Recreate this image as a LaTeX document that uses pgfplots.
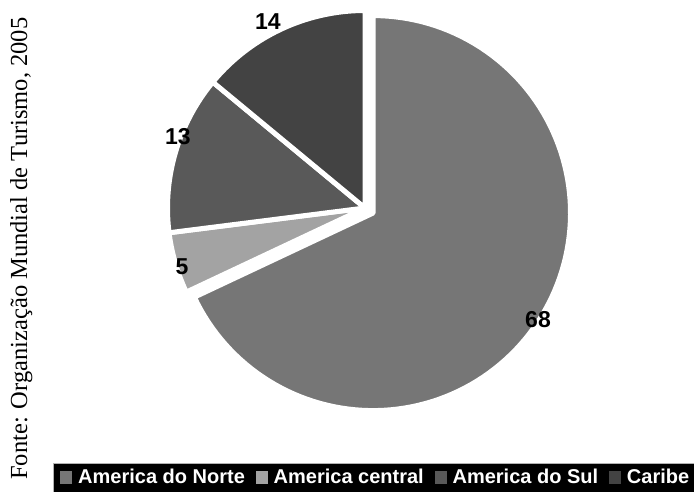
\documentclass[border=0pt]{standalone}
\usepackage{pgfplots}
\usepackage{pgfplotstable}
\pgfplotsset{compat=1.18}
\usepackage{fontspec}
\setsansfont{Liberation Sans}
\newfontfamily\srcfont{Liberation Serif}
\definecolor{cNorte}{HTML}{767676}
\definecolor{cCentral}{HTML}{A3A3A3}
\definecolor{cSul}{HTML}{595959}
\definecolor{cCaribe}{HTML}{434343}

\pgfplotstableread{
region value
Norte 68
Central 5
Sul 13
Caribe 14
}\pietable

\begin{document}
\begin{tikzpicture}
\useasboundingbox (0,0) rectangle (694pt,492pt);
\pgfplotstablegetelem{0}{value}\of\pietable \edef\vA{\pgfplotsretval}
\pgfplotstablegetelem{1}{value}\of\pietable \edef\vB{\pgfplotsretval}
\pgfplotstablegetelem{2}{value}\of\pietable \edef\vC{\pgfplotsretval}
\pgfplotstablegetelem{3}{value}\of\pietable \edef\vD{\pgfplotsretval}
\pgfmathsetmacro{\aA}{90}
\pgfmathsetmacro{\aB}{\aA-3.6*\vA}
\pgfmathsetmacro{\aC}{\aB-3.6*\vB}
\pgfmathsetmacro{\aD}{\aC-3.6*\vC}
\pgfmathsetmacro{\aE}{\aD-3.6*\vD}
\pgfmathsetmacro{\mA}{(\aA+\aB)/2}
\pgfmathsetmacro{\ex}{9.5*cos(\mA)}
\pgfmathsetmacro{\ey}{9.5*sin(\mA)}
\def\R{197.5}
\begin{axis}[
  x=1pt, y=1pt, scale only axis,
  xmin=-365, xmax=329, ymin=-284, ymax=208,
  axis lines=none, clip=false,
  at={(0pt,0pt)}, anchor=south west,
  legend columns=4,
  legend style={
    at={(axis cs:-312,-255)}, anchor=north west,
    fill=black, draw=gray!60, line width=0.8pt,
    inner xsep=7pt, inner ysep=6.5pt,
    font=\fontsize{20}{20}\selectfont\sffamily\bfseries, text=white,
    nodes={inner sep=0pt, text height=14pt, text depth=4pt},
    /tikz/every odd column/.append style={column sep=6pt},
    /tikz/every even column/.append style={column sep=11pt},
  },
]
\addplot[fill=cNorte, draw=white, line width=5pt, line join=round, domain=\aB:\aA, samples=120, forget plot]
  ({\ex+\R*cos(x)}, {\ey+\R*sin(x)}) -- (axis cs:\ex,\ey) -- cycle;
\addplot[fill=cCentral, draw=white, line width=5pt, line join=round, domain=\aC:\aB, samples=20, forget plot]
  ({\R*cos(x)}, {\R*sin(x)}) -- (axis cs:0,0) -- cycle;
\addplot[fill=cSul, draw=white, line width=5pt, line join=round, domain=\aD:\aC, samples=40, forget plot]
  ({\R*cos(x)}, {\R*sin(x)}) -- (axis cs:0,0) -- cycle;
\addplot[fill=cCaribe, draw=white, line width=5pt, line join=round, domain=\aE:\aD, samples=40, forget plot]
  ({\R*cos(x)}, {\R*sin(x)}) -- (axis cs:0,0) -- cycle;

\addlegendimage{legend image code/.code={\fill[cNorte] (0pt,-4.5pt) rectangle (11pt,7.5pt);}}
\addlegendentry{America do Norte}
\addlegendimage{legend image code/.code={\fill[cCentral] (0pt,-4.5pt) rectangle (11pt,7.5pt);}}
\addlegendentry{America central}
\addlegendimage{legend image code/.code={\fill[cSul] (0pt,-4.5pt) rectangle (11pt,7.5pt);}}
\addlegendentry{America do Sul}
\addlegendimage{legend image code/.code={\fill[cCaribe] (0pt,-4.5pt) rectangle (11pt,7.5pt);}}
\addlegendentry{Caribe}

\begin{scope}[every node/.style={font=\fontsize{23}{23}\selectfont\sffamily\bfseries, text=black, inner sep=0pt}]
\node at (axis cs:173,-112) {\vA};
\node at (axis cs:-183,-59) {\vB};
\node at (axis cs:-187,71) {\vC};
\node at (axis cs:-97,186) {\vD};
\end{scope}
\end{axis}
\node[rotate=90, anchor=base west, inner sep=0pt, font=\srcfont\fontsize{24.5}{24.5}\selectfont] at (27pt,12pt) {Fonte: Organização Mundial de Turismo, 2005};
\end{tikzpicture}
\end{document}
